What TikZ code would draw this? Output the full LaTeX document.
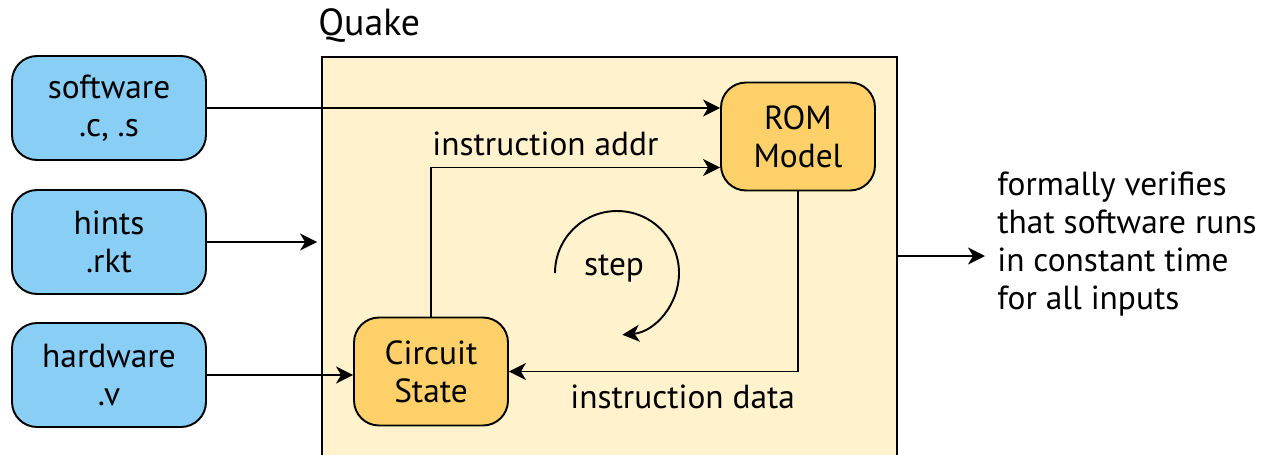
\documentclass[tikz,border=0pt]{standalone}
\usepackage{fontspec}
\setmainfont{PT Sans}
\usetikzlibrary{arrows.meta,calc}

\definecolor{srcblue}{RGB}{137,206,245}
\definecolor{unitorange}{RGB}{253,208,106}
\definecolor{quakebg}{RGB}{255,242,204}

\tikzset{
  srcbox/.style={draw, line width=1.1pt, fill=srcblue, rounded corners=0.5cm,
    minimum width=3.88cm, minimum height=2.08cm, align=center},
  unitbox/.style={draw, line width=1.1pt, fill=unitorange, rounded corners=0.5cm,
    minimum width=3.08cm, minimum height=2.16cm, align=center},
  flow/.style={line width=1.1pt, -{Stealth[length=0.34cm,width=0.34cm,inset=0.1cm]}}
}

\begin{document}
\begin{tikzpicture}[x=0.02cm,y=-0.02cm,font=\fontsize{19}{21.5}\selectfont]

  % page frame, everything below the bottom edge is cut off
  \useasboundingbox (0,0) rectangle (1270,454);
  \clip (0,0) rectangle (1270,454);

  % the verifier box
  \node [draw, line width=1.1pt, fill=quakebg, minimum width=11.5cm,
    minimum height=8.46cm] (quake) at (609.5,268.5) {};
  \node [anchor=base west, inner sep=0, font=\fontsize{21.5}{24}\selectfont]
    (quakelbl) at (318,35) {Quake};

  % inputs on the left
  \node [srcbox] (software) at (109,108) {software\\.c, .s};
  \node [srcbox] (hints) at (109,242) {hints\\.rkt};
  \node [srcbox] (hardware) at (109,375) {hardware\\.v};

  % inner units
  \node [unitbox] (rom) at (798,136.5) {ROM\\Model};
  \node [unitbox] (circuit) at (431,371.5) {Circuit\\State};

  % inputs into the box
  \draw [flow] (software.east) -- (software.east -| rom.west);
  \draw [flow] (hints.east) -- ([xshift=-0.08cm]hints.east -| quake.west);
  \draw [flow] (hardware.east) -- (hardware.east -| circuit.west);

  % fetch loop
  \draw [flow] (circuit.north) |- ([yshift=-0.62cm]rom.west);
  \node [anchor=base west, inner sep=0] (addrlbl) at (432,155) {instruction addr};
  \draw [flow] (rom.south) |- (circuit.east);
  \node [anchor=base west, inner sep=0] (datalbl) at (570,408) {instruction data};

  % step
  \node (steplbl) at (614,268) {step};
  \draw [flow] (555,273) arc [start angle=180, end angle=445, radius=62];

  % result
  \coordinate (outend) at (985,256);
  \draw [flow] (quake.east |- outend) -- (outend);
  \node [anchor=west, align=left, inner sep=0] (result) at (997,244)
    {formally verifies\\that software runs\\in constant time\\for all inputs};

\end{tikzpicture}
\end{document}
